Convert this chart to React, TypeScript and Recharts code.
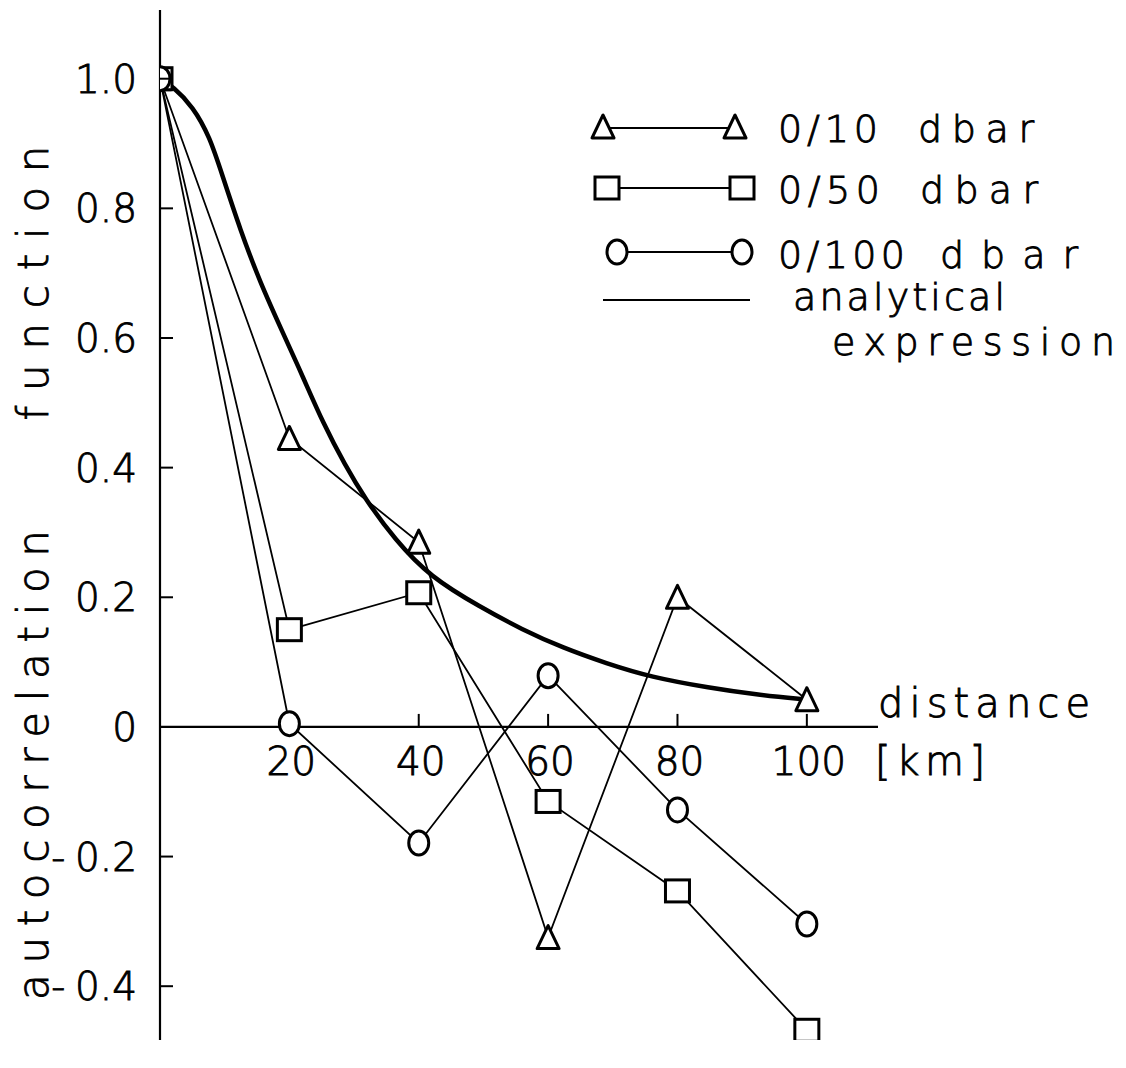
import React from 'react';
import { LineChart, Line, XAxis, YAxis, ReferenceLine, ReferenceDot, Legend, Label } from 'recharts';

const FONT = '"DejaVu Sans", "Liberation Sans", sans-serif';
const FW = 200;
const TS = 0.9; // text outline to thicken the extra-light face

// distance [km] of the measured points
const distances = [0, 20, 40, 60, 80, 100];
// autocorrelation per layer
const dbar10 = [1.0, 0.445, 0.285, -0.325, 0.2, 0.042];
const dbar50 = [1.0, 0.15, 0.207, -0.115, -0.253, -0.468];
const dbar100 = [1.0, 0.005, -0.179, 0.079, -0.128, -0.304];

// analytical expression
const curveDistances = [0, 2, 5.1, 7.7, 9.6, 12.4, 15.5, 19, 22.1, 25.2, 28.6, 31.7, 36.3, 41.8, 49.5, 56, 62.3, 69, 75.8, 85.1, 92, 100];
const curveValues = [1.0, 0.988, 0.957, 0.91, 0.852, 0.767, 0.685, 0.608, 0.54, 0.469, 0.404, 0.352, 0.289, 0.231, 0.185, 0.15, 0.122, 0.098, 0.077, 0.06, 0.05, 0.042];

const xTicks = [20, 40, 60, 80, 100];
const xTickLabels = ['20', '40', '60', '80', '100'];
const yTicks = [-0.4, -0.2, 0, 0.2, 0.4, 0.6, 0.8, 1.0];
const yTickLabels = ['-\u20050.4', '-\u20050.2', '0', '0.2', '0.4', '0.6', '0.8', '1.0'];
const legendLabels = ['0/10 dbar', '0/50 dbar', '0/100 dbar', 'analytical', 'expression'];
const axisTitle = ['autocorrelation', 'function'];
const distanceLabel = ['distance', '[km]'];

const X_DOMAIN: [number, number] = [0, 111];
const Y_DOMAIN: [number, number] = [-0.483, 1.106];

const toRows = (xs: number[], ys: number[]) => xs.map((x, i) => ({ x, y: ys[i] }));
const rows10 = toRows(distances, dbar10);
const rows50 = toRows(distances, dbar50);
const rows100 = toRows(distances, dbar100);
const curveRows = toRows(curveDistances, curveValues);

const SW = 3;

const Tri = ({ cx, cy }: { cx: number; cy: number }) => (
  <polygon
    points={`${cx},${cy - 12} ${cx - 11},${cy + 11} ${cx + 11},${cy + 11}`}
    fill="#fff"
    stroke="#000"
    strokeWidth={SW}
    strokeLinejoin="round"
  />
);
const Sq = ({ cx, cy }: { cx: number; cy: number }) => (
  <rect x={cx - 12} y={cy - 11} width={24} height={22} fill="#fff" stroke="#000" strokeWidth={SW} />
);
const Circ = ({ cx, cy }: { cx: number; cy: number }) => (
  <ellipse cx={cx} cy={cy} rx={10} ry={12} fill="#fff" stroke="#000" strokeWidth={SW} />
);

const textStyle = { fontFamily: FONT, fontWeight: FW, fill: '#000', stroke: '#000', strokeWidth: TS } as const;

const YTick = (props: any) => {
  const { x, y, payload } = props;
  const idx = yTicks.indexOf(payload.value);
  const label = idx >= 0 ? yTickLabels[idx] : String(payload.value);
  return (
    <g>
      {payload.value !== 0 && <line x1={x} y1={y} x2={x + 13} y2={y} stroke="#000" strokeWidth={2} />}
      <text x={x - 23} y={y + 14} textAnchor="end" fontSize={39} {...textStyle}>
        {label}
      </text>
    </g>
  );
};

const XTickShape = (label: string) => (props: any) => {
  const { cx, cy } = props;
  return (
    <g>
      <line x1={cx} y1={cy} x2={cx} y2={cy - 13} stroke="#000" strokeWidth={2} />
      <text x={cx + 2} y={cy + 48} textAnchor="middle" fontSize={39} {...textStyle}>
        {label}
      </text>
    </g>
  );
};

// two-part legend label: "0/10" and "dbar" laid out with a wide gap
const SplitLabel = ({ text, x, y, l1, x2, l2 }: { text: string; x: number; y: number; l1: number; x2: number; l2: number }) => {
  const [a, b] = text.split(' ');
  return (
    <g fontSize={38} {...textStyle}>
      <text x={x} y={y} textLength={l1} lengthAdjust="spacing">{a}</text>
      <text x={x2} y={y} textLength={l2} lengthAdjust="spacing">{b}</text>
    </g>
  );
};

const LegendContent = () => {
  const textProps = { ...textStyle, fontSize: 38 } as const;
  return (
    <svg width={540} height={280} style={{ overflow: 'visible' }}>
      <line x1={18} y1={33} x2={150} y2={33} stroke="#000" strokeWidth={1.8} />
      <Tri cx={18} cy={32} />
      <Tri cx={150} cy={32} />
      <SplitLabel text={legendLabels[0]} x={193} y={47} l1={100} x2={333} l2={116} />

      <line x1={22} y1={93} x2={157} y2={93} stroke="#000" strokeWidth={1.8} />
      <Sq cx={22} cy={93} />
      <Sq cx={157} cy={93} />
      <SplitLabel text={legendLabels[1]} x={193} y={108} l1={102} x2={335} l2={118} />

      <line x1={32} y1={157} x2={157} y2={157} stroke="#000" strokeWidth={1.8} />
      <Circ cx={32} cy={157} />
      <Circ cx={157} cy={157} />
      <SplitLabel text={legendLabels[2]} x={193} y={173} l1={127} x2={355} l2={138} />

      <line x1={18} y1={205} x2={165} y2={205} stroke="#000" strokeWidth={1.8} />
      <text x={208} y={215} textLength={212} lengthAdjust="spacing" {...textProps}>{legendLabels[3]}</text>
      <text x={247} y={260} textLength={283} lengthAdjust="spacing" {...textProps}>{legendLabels[4]}</text>
    </svg>
  );
};

const AxisTitle = () => (
  <g fontSize={42} {...textStyle}>
    <text
      x={0}
      y={0}
      transform="translate(48, 765) rotate(-90)"
      textAnchor="middle"
      textLength={470}
      lengthAdjust="spacing"
    >
      {axisTitle[0]}
    </text>
    <text
      x={0}
      y={0}
      transform="translate(48, 283) rotate(-90)"
      textAnchor="middle"
      textLength={275}
      lengthAdjust="spacing"
    >
      {axisTitle[1]}
    </text>
  </g>
);

const DistanceLabel = (props: any) => {
  const vb = props.viewBox || {};
  const x = (vb.x ?? 160) + (vb.width ?? 718);
  const y = vb.y ?? 727;
  return (
    <g fontSize={40} {...textStyle}>
      <text x={x} y={y - 10} textLength={212} lengthAdjust="spacing">{distanceLabel[0]}</text>
      <text x={x - 3} y={y + 48} textLength={110} lengthAdjust="spacing">{distanceLabel[1]}</text>
    </g>
  );
};

export default function App() {
  return (
    <div style={{ position: 'absolute', left: 0, top: 0, width: 1126, height: 1068, background: '#fff' }}>
      <LineChart
        width={1126}
        height={1068}
        margin={{ top: 10, right: 248, bottom: 28, left: 60 }}
        style={{ background: '#fff' }}
      >
        <XAxis type="number" dataKey="x" domain={X_DOMAIN} hide allowDataOverflow />
        <YAxis
          type="number"
          dataKey="y"
          domain={Y_DOMAIN}
          ticks={yTicks}
          width={100}
          tickSize={0}
          tickMargin={0}
          tickLine={false}
          axisLine={{ stroke: '#000', strokeWidth: 2.2 }}
          tick={<YTick />}
          interval={0}
          allowDataOverflow
        >
          <Label content={<AxisTitle />} />
        </YAxis>
        <ReferenceLine y={0} stroke="#000" strokeWidth={2.2} ifOverflow="visible" label={<DistanceLabel />} />
        {xTicks.map((t, i) => (
          <ReferenceDot key={t} x={t} y={0} r={0} ifOverflow="visible" shape={XTickShape(xTickLabels[i])} />
        ))}
        <Line
          data={curveRows}
          dataKey="y"
          type="basis"
          stroke="#000"
          strokeWidth={4.5}
          dot={false}
          activeDot={false}
          isAnimationActive={false}
          name="analytical expression"
        />
        <Line
          data={rows10}
          dataKey="y"
          type="linear"
          stroke="#000"
          strokeWidth={1.8}
          dot={(p: any) => <Tri key={`t${p.index}`} cx={p.cx} cy={p.cy} />}
          activeDot={false}
          isAnimationActive={false}
          name="0/10 dbar"
        />
        <Line
          data={rows50}
          dataKey="y"
          type="linear"
          stroke="#000"
          strokeWidth={1.8}
          dot={(p: any) => <Sq key={`s${p.index}`} cx={p.cx} cy={p.cy} />}
          activeDot={false}
          isAnimationActive={false}
          name="0/50 dbar"
        />
        <Line
          data={rows100}
          dataKey="y"
          type="linear"
          stroke="#000"
          strokeWidth={1.8}
          dot={(p: any) => <Circ key={`c${p.index}`} cx={p.cx} cy={p.cy} />}
          activeDot={false}
          isAnimationActive={false}
          name="0/100 dbar"
        />
        <Legend
          layout="horizontal"
          verticalAlign="middle"
          align="center"
          content={<LegendContent />}
          wrapperStyle={{ position: 'absolute', top: 95, left: 585, width: 540, height: 280 }}
        />
      </LineChart>
    </div>
  );
}
